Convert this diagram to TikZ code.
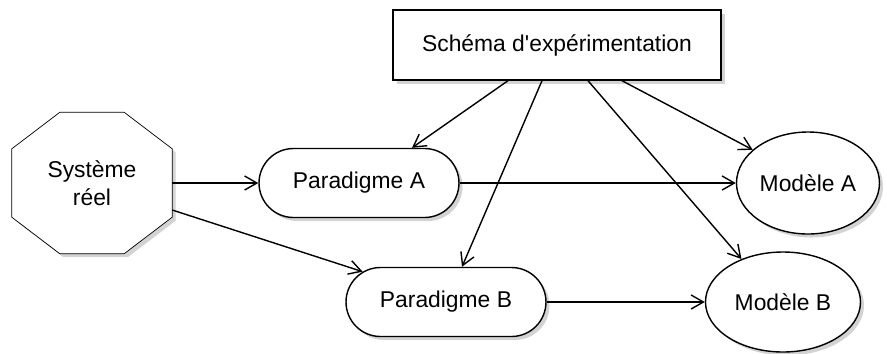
\documentclass[tikz,border=0pt]{standalone}
\usepackage{fontspec}
\setmainfont{Liberation Sans}
\usepackage{tikz}
\usetikzlibrary{arrows.meta, positioning, shapes.misc, shapes.geometric, shadows, calc, backgrounds}

\begin{document}
\begin{tikzpicture}[>={Straight Barb[length=7pt,width=8pt]}, line width=0.8pt,
        every node/.style={draw,fill=white,inner sep=2pt,align=center,
          font=\fontsize{13}{16}\selectfont},
        ombre/.style={drop shadow={opacity=0.35,shadow xshift=2pt,shadow yshift=-2pt}}]
        \useasboundingbox (0,0) rectangle (17.74,-7.06);
        % styles des differentes boites
        \tikzset{boite/.style={rectangle,ombre,minimum width=6.56cm,minimum height=1.4cm},
          octo/.style={rectangle,draw=none,fill=none,minimum width=3.18cm,minimum height=2.8cm},
          para/.style={rounded rectangle,ombre,minimum width=4.14cm,minimum height=1.38cm},
          modele/.style={ellipse,ombre,inner sep=0pt}}
        % noeuds
        \node[boite]  (schema) at (11.14,-0.9)  {Schéma d\textquotesingle expérimentation};
        \node[octo]   (sys)    at (1.84,-3.66)  {Système\\réel};
        \node[para]   (parA)   at (7.18,-3.66)  {Paradigme A};
        \node[para]   (parB)   at (8.92,-6.04)  {Paradigme B};
        \node[modele,minimum width=2.86cm,minimum height=2.04cm] (modA) at (16.16,-3.66) {Modèle A};
        \node[modele,minimum width=3.1cm,minimum height=2.0cm]   (modB) at (15.66,-6.04) {Modèle B};
        % octogone derriere le texte
        \begin{scope}[on background layer]
          \draw[fill=white,ombre] ([xshift=0.96cm]sys.north west) -- ([xshift=-0.96cm]sys.north east)
            -- ([yshift=-0.73cm]sys.north east) -- ([yshift=0.73cm]sys.south east)
            -- ([xshift=-0.96cm]sys.south east) -- ([xshift=0.96cm]sys.south west)
            -- ([yshift=0.73cm]sys.south west) -- ([yshift=-0.73cm]sys.north west) -- cycle;
        \end{scope}
        % fleches
        \draw[->] (sys.east) -- (parA.west);
        \draw[->] ([yshift=-0.54cm]sys.east) -- (parB.160);
        \draw[->] (parA.east) -- (modA.west);
        \draw[->] (parB.east) -- (modB.west);
        \draw[->] ([xshift=-0.98cm]schema.south) -- ([xshift=1.06cm]parA.north);
        \draw[->] ([xshift=-0.3cm]schema.south)  -- ([xshift=0.32cm]parB.north);
        \draw[->] ([xshift=0.62cm]schema.south)  -- (modB.134);
        \draw[->] ([xshift=1.3cm]schema.south)   -- (modA.149);
    \end{tikzpicture}
\end{document}
